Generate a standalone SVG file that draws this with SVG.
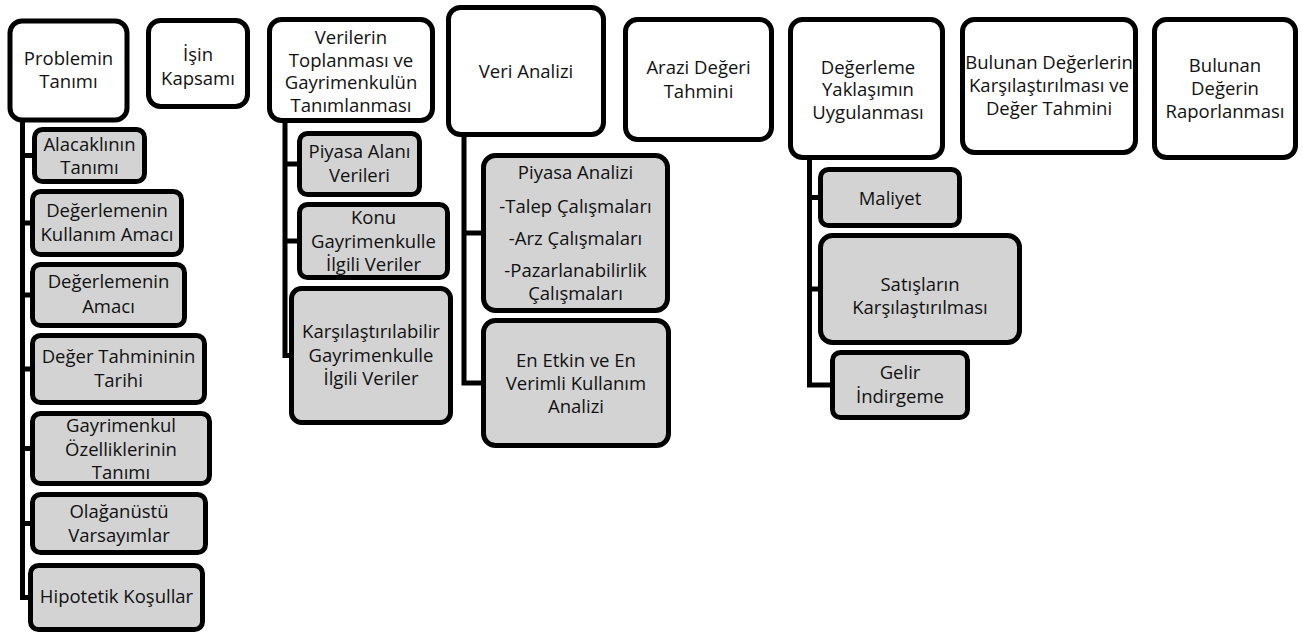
<svg xmlns="http://www.w3.org/2000/svg" width="1303" height="633" viewBox="0 0 1303 633">
<style>
.top{fill:#ffffff;stroke:#000;stroke-width:5}
.sub{fill:#d3d3d3;stroke:#000;stroke-width:5}
.con{fill:none;stroke:#000;stroke-width:5;stroke-linejoin:miter}
text{font-family:"Open Sans","Liberation Sans",sans-serif;font-size:18.5px;fill:#111;text-anchor:middle}
</style>
<rect width="1303" height="633" fill="#fff"/>
<g id="connectors">
<path class="con" d="M22.5,122 V597.5 H31 M22.5,155.5 H34 M22.5,223 H32 M22.5,295 H32 M22.5,369 H32 M22.5,448.5 H32 M22.5,523.5 H32"/>
<path class="con" d="M285,121 V355.5 H291 M285,164 H299 M285,241 H299"/>
<path class="con" d="M464,135 V383 H483 M464,233 H483"/>
<path class="con" d="M809.5,158 V385 H832 M809.5,197.5 H820 M809.5,289 H820"/>
</g>
<g id="n1"><rect class="top" x="10" y="21" width="117" height="99" rx="12"/><text x="68.5" y="65">Problemin</text><text x="68.5" y="88">Tanımı</text></g>
<g id="n2"><rect class="top" x="148.5" y="20.5" width="99" height="86" rx="12"/><text x="198" y="60.5">İşin</text><text x="198" y="84.5">Kapsamı</text></g>
<g id="n3"><rect class="top" x="269.5" y="19.5" width="163" height="101" rx="12"/><text x="351" y="44">Verilerin</text><text x="351" y="66.5">Toplanması ve</text><text x="351" y="89">Gayrimenkulün</text><text x="351" y="111.5">Tanımlanması</text></g>
<g id="n4"><rect class="top" x="448.5" y="7.5" width="155" height="127" rx="12"/><text x="526" y="78">Veri Analizi</text></g>
<g id="n5"><rect class="top" x="625.5" y="19.5" width="146" height="120" rx="12"/><text x="698.5" y="74">Arazi Değeri</text><text x="698.5" y="97.5">Tahmini</text></g>
<g id="n6"><rect class="top" x="790.5" y="19.5" width="152" height="138" rx="12"/><text x="868" y="73.5">Değerleme</text><text x="868" y="96">Yaklaşımın</text><text x="868" y="118.5">Uygulanması</text></g>
<g id="n7"><rect class="top" x="962.5" y="19.5" width="173" height="133" rx="12"/><text x="1049" y="69">Bulunan Değerlerin</text><text x="1049" y="92">Karşılaştırılması ve</text><text x="1049" y="115">Değer Tahmini</text></g>
<g id="n8"><rect class="top" x="1154.5" y="19.5" width="141" height="138" rx="12"/><text x="1225" y="71.5">Bulunan</text><text x="1225" y="95">Değerin</text><text x="1225" y="118">Raporlanması</text></g>
<g id="c1"><rect class="sub" x="34.5" y="129.5" width="110" height="52" rx="8"/><text x="89.5" y="150.7">Alacaklının</text><text x="89.5" y="174">Tanımı</text></g>
<g id="c2"><rect class="sub" x="32.5" y="191.5" width="149" height="63" rx="8"/><text x="107" y="216.7">Değerlemenin</text><text x="107" y="240.7">Kullanım Amacı</text></g>
<g id="c3"><rect class="sub" x="32.5" y="264.5" width="152" height="61" rx="8"/><text x="108.5" y="288.3">Değerlemenin</text><text x="108.5" y="313.3">Amacı</text></g>
<g id="c4"><rect class="sub" x="32.5" y="335.5" width="172" height="67" rx="8"/><text x="118.5" y="363.3">Değer Tahmininin</text><text x="118.5" y="386.7">Tarihi</text></g>
<g id="c5"><rect class="sub" x="32.5" y="413.5" width="177" height="70" rx="8"/><text x="121" y="431.7">Gayrimenkul</text><text x="121" y="456">Özelliklerinin</text><text x="121" y="479.3">Tanımı</text></g>
<g id="c6"><rect class="sub" x="32.5" y="494.5" width="173" height="58" rx="8"/><text x="119" y="518.3">Olağanüstü</text><text x="119" y="541.7">Varsayımlar</text></g>
<g id="c7"><rect class="sub" x="30.5" y="565.5" width="172" height="64" rx="8"/><text x="116.5" y="603.3">Hipotetik Koşullar</text></g>
<g id="c8"><rect class="sub" x="299.5" y="133.5" width="120" height="61" rx="8"/><text x="359.5" y="158.3">Piyasa Alanı</text><text x="359.5" y="181.7">Verileri</text></g>
<g id="c9"><rect class="sub" x="299.5" y="204.5" width="148" height="73" rx="8"/><text x="373.5" y="224">Konu</text><text x="373.5" y="248">Gayrimenkulle</text><text x="373.5" y="270.7">İlgili Veriler</text></g>
<g id="c10"><rect class="sub" x="291.5" y="288.5" width="159" height="134" rx="10"/><text x="371" y="338.3">Karşılaştırılabilir</text><text x="371" y="361.7">Gayrimenkulle</text><text x="371" y="385">İlgili Veriler</text></g>
<g id="c11"><rect class="sub" x="483.5" y="155.5" width="184" height="155" rx="12"/><text x="575.5" y="179.3">Piyasa Analizi</text><text x="575.5" y="213.3">-Talep Çalışmaları</text><text x="575.5" y="245">-Arz Çalışmaları</text><text x="575.5" y="276.7">-Pazarlanabilirlik</text><text x="575.5" y="300">Çalışmaları</text></g>
<g id="c12"><rect class="sub" x="483.5" y="320.5" width="185" height="125" rx="12"/><text x="576" y="366.7">En Etkin ve En</text><text x="576" y="390">Verimli Kullanım</text><text x="576" y="413.3">Analizi</text></g>
<g id="c13"><rect class="sub" x="820.5" y="169.5" width="139" height="56" rx="8"/><text x="890" y="205">Maliyet</text></g>
<g id="c14"><rect class="sub" x="820.5" y="235.5" width="199" height="107" rx="12"/><text x="920" y="290.5">Satışların</text><text x="920" y="313.5">Karşılaştırılması</text></g>
<g id="c15"><rect class="sub" x="832.5" y="352.5" width="135" height="65" rx="8"/><text x="900" y="378.5">Gelir</text><text x="900" y="402.5">İndirgeme</text></g>
</svg>
